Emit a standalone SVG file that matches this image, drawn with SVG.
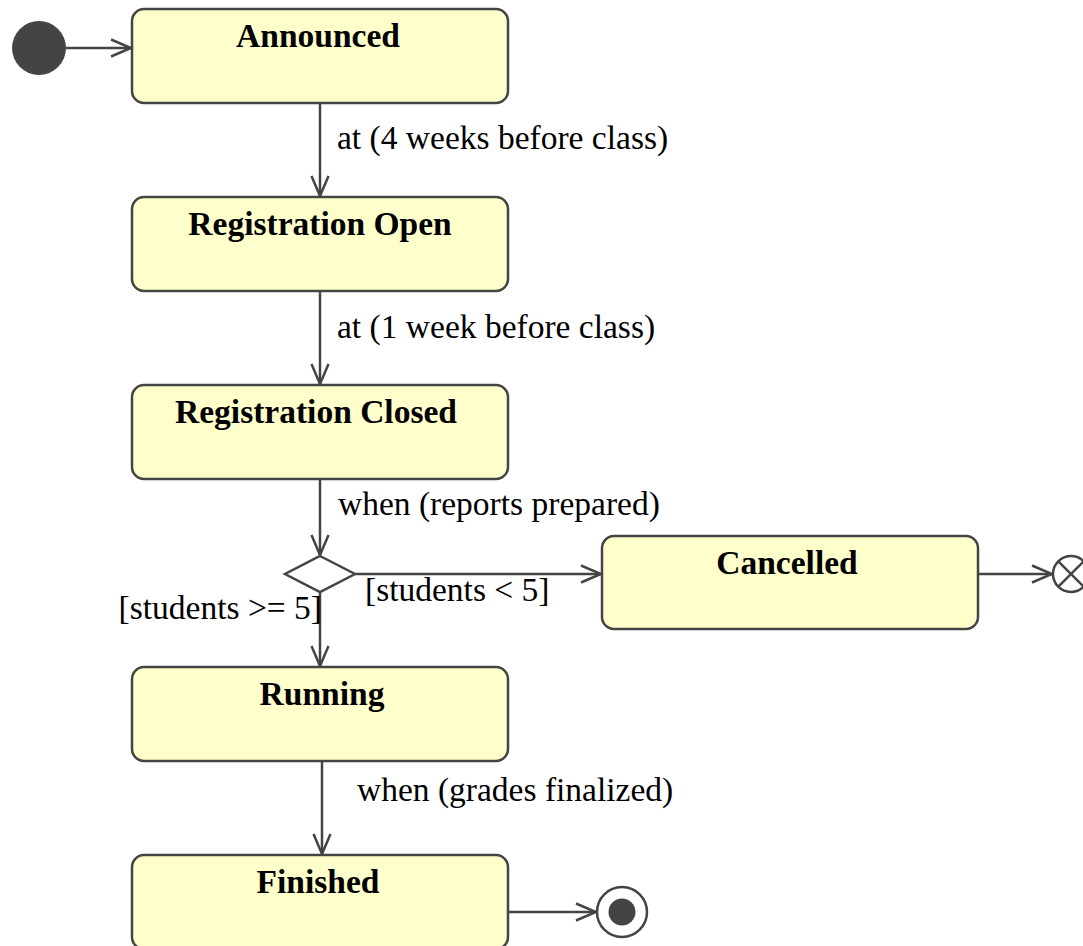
<svg xmlns="http://www.w3.org/2000/svg" width="1083" height="946" viewBox="0 0 1083 946">
  <style>
    .state { fill: #ffffcc; stroke: #444444; stroke-width: 2.5; }
    .name { font-family: "Liberation Serif", "Times New Roman", serif; font-weight: bold; font-size: 33.5px; fill: #000000; text-anchor: middle; }
    .label { font-family: "Liberation Serif", "Times New Roman", serif; font-size: 33.5px; fill: #000000; }
    .edge { fill: none; stroke: #444444; stroke-width: 2.5; }
    .pseudo { fill: #444444; stroke: none; }
  </style>
  <defs>
    <marker id="open-arrow" markerUnits="userSpaceOnUse" markerWidth="24" markerHeight="22" viewBox="-21 -10 24 20" refX="0" refY="0" orient="auto">
      <path d="M -20 -8.5 L 0 0 L -20 8.5" fill="none" stroke="#444444" stroke-width="2.5"/>
    </marker>
  </defs>

  <!-- transitions -->
  <g id="connectors">
    <line class="edge" x1="66" y1="48" x2="131" y2="48" marker-end="url(#open-arrow)"/>
    <line class="edge" x1="320" y1="103" x2="320" y2="196" marker-end="url(#open-arrow)"/>
    <text class="label" x="337" y="149">at (4 weeks before class)</text>
    <line class="edge" x1="320" y1="291" x2="320" y2="384" marker-end="url(#open-arrow)"/>
    <text class="label" x="337" y="338">at (1 week before class)</text>
    <line class="edge" x1="320" y1="479" x2="320" y2="555" marker-end="url(#open-arrow)"/>
    <text class="label" x="338" y="515">when (reports prepared)</text>
    <line class="edge" x1="355" y1="574" x2="601" y2="574" marker-end="url(#open-arrow)"/>
    <text class="label" x="365" y="601">[students &lt; 5]</text>
    <line class="edge" x1="320" y1="592" x2="320" y2="666" marker-end="url(#open-arrow)"/>
    <text class="label" x="322" y="619" text-anchor="end">[students &gt;= 5]</text>
    <line class="edge" x1="322" y1="761" x2="322" y2="854" marker-end="url(#open-arrow)"/>
    <text class="label" x="357" y="801">when (grades finalized)</text>
    <line class="edge" x1="978" y1="574" x2="1052" y2="574" marker-end="url(#open-arrow)"/>
    <line class="edge" x1="508" y1="912" x2="596" y2="912" marker-end="url(#open-arrow)"/>
  </g>

  <!-- initial pseudo-state -->
  <g id="initial">
    <circle class="pseudo" cx="39" cy="48" r="27"/>
  </g>

  <g id="announced">
    <rect class="state" x="132" y="9" width="376" height="94" rx="12" ry="12"/>
    <text class="name" x="318" y="47">Announced</text>
  </g>

  <g id="registration-open">
    <rect class="state" x="132" y="197" width="376" height="94" rx="12" ry="12"/>
    <text class="name" x="320" y="235">Registration Open</text>
  </g>

  <g id="registration-closed">
    <rect class="state" x="132" y="385" width="376" height="94" rx="12" ry="12"/>
    <text class="name" x="316" y="423">Registration Closed</text>
  </g>

  <!-- choice point -->
  <g id="decision">
    <polygon points="320,556 355,574 320,592 285,574" fill="#ffffff" stroke="#444444" stroke-width="2.5"/>
  </g>

  <g id="cancelled">
    <rect class="state" x="602" y="536" width="376" height="93" rx="12" ry="12"/>
    <text class="name" x="787" y="574">Cancelled</text>
  </g>

  <!-- terminate pseudo-state -->
  <g id="terminate">
    <circle cx="1071" cy="574" r="18" fill="#ffffff" stroke="#444444" stroke-width="2.5"/>
    <line x1="1058.3" y1="561.3" x2="1083.7" y2="586.7" stroke="#444444" stroke-width="2.5"/>
    <line x1="1058.3" y1="586.7" x2="1083.7" y2="561.3" stroke="#444444" stroke-width="2.5"/>
  </g>

  <g id="running">
    <rect class="state" x="132" y="667" width="376" height="94" rx="12" ry="12"/>
    <text class="name" x="322" y="705">Running</text>
  </g>

  <g id="finished">
    <rect class="state" x="132" y="855" width="376" height="94" rx="12" ry="12"/>
    <text class="name" x="318" y="893">Finished</text>
  </g>

  <!-- final state -->
  <g id="final">
    <circle cx="622" cy="912" r="25" fill="#ffffff" stroke="#444444" stroke-width="2.5"/>
    <circle class="pseudo" cx="622" cy="912" r="13.5"/>
  </g>
</svg>
